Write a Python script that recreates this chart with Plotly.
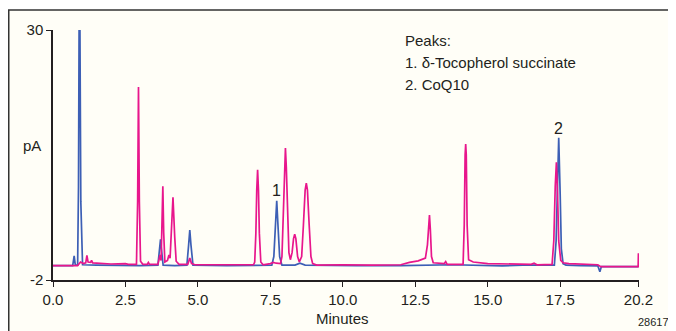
import plotly.graph_objects as go

# ---- data (minutes, pA) ----
blue_t = [-0.13, 0.5, 0.68, 0.73, 0.77, 0.85, 0.88, 0.90, 0.93, 0.96, 1.02, 1.5, 2.2, 3.0,
          3.62, 3.68, 3.71, 3.74, 3.80, 4.2, 4.62, 4.68, 4.72, 4.76, 4.83, 6.0,
          7.55, 7.62, 7.67, 7.72, 7.77, 7.82, 7.90, 8.35, 8.52, 8.70, 10.5, 12.0,
          13.8, 15.5, 16.2, 17.30, 17.36, 17.41, 17.45, 17.50, 17.54, 17.60, 17.70,
          18.2, 18.80, 18.87, 18.92, 19.5, 20.2]
blue_y = [-0.15, -0.15, -0.15, 1.1, -0.1, -0.1, 10.0, 29.9, 29.9, 8.0, -0.05, -0.1, -0.15, -0.15,
          -0.1, 2.0, 3.2, 2.0, -0.1, -0.15, -0.1, 2.5, 4.4, 2.5, -0.1, -0.15,
          -0.1, 1.0, 4.5, 8.15, 4.5, 1.0, -0.1, -0.1, 0.15, -0.1, -0.15, -0.15,
          -0.05, -0.2, -0.1, -0.1, 3.0, 11.0, 16.2, 9.0, 2.0, 0.1, -0.1,
          -0.15, -0.2, -0.95, -0.3, -0.3, -0.3]

pink_t = [-0.13, 0.85, 0.95, 1.05, 1.13, 1.17, 1.21, 1.30, 1.33, 1.37, 2.0, 2.5, 2.6,
          2.88, 2.92, 2.95, 2.98, 3.02, 3.10, 3.25, 3.29, 3.33, 3.62, 3.69, 3.73,
          3.76, 3.79, 3.82, 3.86, 3.95, 4.00, 4.04, 4.08, 4.14, 4.20, 4.25, 4.35,
          4.65, 4.72, 4.78, 4.90, 6.0, 6.92, 6.96, 7.00, 7.03, 7.06, 7.09, 7.12, 7.17,
          7.25, 7.50, 7.60, 7.70, 7.85, 7.90, 7.95, 7.99, 8.02, 8.05, 8.09, 8.14,
          8.19, 8.25, 8.30, 8.34, 8.38, 8.44, 8.50, 8.58, 8.64, 8.70, 8.74, 8.78,
          8.84, 8.90, 8.96, 9.10, 10.0, 11.0, 12.0, 12.3, 12.6, 12.85, 12.92, 12.96,
          12.99, 13.02, 13.06, 13.12, 13.50, 13.55, 13.60, 14.15, 14.19, 14.22,
          14.24, 14.26, 14.29, 14.34, 14.5, 15.0, 15.8, 16.5, 16.6, 16.7, 17.22,
          17.28, 17.33, 17.37, 17.41, 17.45, 17.52, 17.60, 17.80, 18.3, 18.80,
          18.90, 19.6, 20.19, 20.20]
pink_y = [-0.15, -0.15, 0.3, 0.1, 0.2, 1.15, 0.3, 0.25, 0.5, 0.2, 0.05, 0.1, 0.0,
          0.0, 8.0, 22.7, 8.0, 0.4, 0.0, 0.0, 0.25, 0.0, 0.0, 1.2, 0.5,
          4.0, 10.0, 4.0, 0.3, 0.5, 1.2, 0.8, 3.5, 8.6, 3.5, 0.4, 0.0,
          0.0, 0.8, 0.1, -0.05, -0.1, -0.05, 0.3, 4.0, 9.5, 12.1, 9.5, 4.0, 0.3,
          -0.05, 0.1, 0.25, 0.15, 0.1, 1.0, 6.0, 12.5, 14.9, 12.5, 6.0, 1.5,
          0.6, 1.5, 3.3, 3.85, 3.3, 1.0, 0.3, 1.0, 5.0, 9.5, 10.4, 9.5,
          5.0, 1.0, 0.1, -0.1, -0.05, -0.1, -0.05, 0.25, 0.45, 0.8, 2.5, 5.5,
          6.3, 4.5, 1.0, 0.2, 0.1, 0.35, 0.0, 0.0, 5.0, 14.0,
          15.4, 14.0, 5.0, 0.6, 0.3, 0.1, 0.0, 0.0, 0.15, -0.05, 0.0,
          3.0, 10.0, 13.06, 9.0, 3.0, 0.5, 0.2, 0.1, 0.0, -0.05,
          -0.3, -0.3, -0.3, 1.41]

x_tickvals = [0.0, 2.5, 5.0, 7.5, 10.0, 12.5, 15.0, 17.5, 20.2]
x_ticktext = ["0.0", "2.5", "5.0", "7.5", "10.0", "12.5", "15.0", "17.5", "20.2"]
y_tickvals = [-2, 30]
y_ticktext = ["-2", "30"]

peak_labels = ["1", "2"]
peak_label_t = [7.72, 17.45]
peak_label_y = [9.5, 17.4]

legend_lines = ["Peaks:", "1. δ-Tocopherol succinate", "2. CoQ10"]

BLUE = "#3d5fb5"
PINK = "#e8168c"
CREAM = "#fffef7"
INK = "#231f20"
FONT = "Liberation Sans, Arial, sans-serif"
FS = 15

fig = go.Figure()
fig.add_trace(go.Scatter(x=blue_t, y=blue_y, mode="lines",
                         line=dict(color=BLUE, width=1.7), hoverinfo="skip"))
fig.add_trace(go.Scatter(x=pink_t, y=pink_y, mode="lines",
                         line=dict(color=PINK, width=1.7), hoverinfo="skip"))

for lab, t, y in zip(peak_labels, peak_label_t, peak_label_y):
    fig.add_annotation(x=t, y=y, text=lab, showarrow=False, xref="x", yref="y",
                       yanchor="middle", font=dict(size=16, color=INK, family=FONT))

for i, line in enumerate(legend_lines):
    fig.add_annotation(x=0.597, y=0.96 - 0.088 * i, xref="paper", yref="paper",
                       xanchor="left", yanchor="middle", align="left", showarrow=False,
                       text=line, font=dict(size=FS, color=INK, family=FONT))

fig.add_annotation(x=-0.017, y=0.54, xref="paper", yref="paper", xanchor="right",
                   yanchor="middle", showarrow=False, text="pA",
                   font=dict(size=FS, color=INK, family=FONT))
fig.add_annotation(x=10.0, y=-0.152, xref="x", yref="paper", xanchor="center",
                   yanchor="middle", showarrow=False, text="Minutes",
                   font=dict(size=FS, color=INK, family=FONT))
fig.add_annotation(x=1.055, y=-0.168, xref="paper", yref="paper", xanchor="right",
                   yanchor="middle", showarrow=False, text="28617",
                   font=dict(size=11, color=INK, family=FONT))

# page frame (top and left edges visible)
fig.add_shape(type="rect", xref="paper", yref="paper", x0=-0.0755, y0=-0.4,
              x1=1.2, y1=1.08, line=dict(color="#333333", width=1.5),
              fillcolor=CREAM, layer="below")

fig.update_layout(
    width=668, height=323,
    margin=dict(l=45, r=37, t=22, b=51),
    paper_bgcolor="white",
    plot_bgcolor="rgba(0,0,0,0)",
    showlegend=False,
    font=dict(family=FONT, size=FS, color=INK),
    xaxis=dict(range=[0, 20.22], tickvals=x_tickvals, ticktext=x_ticktext,
               showgrid=False, zeroline=False, showline=True, linecolor=INK,
               linewidth=1.5, ticks="outside", ticklen=5, tickwidth=1.2,
               tickcolor=INK, tickfont=dict(size=FS, family=FONT, color=INK)),
    yaxis=dict(range=[-2, 30], tickvals=y_tickvals, ticktext=y_ticktext,
               showgrid=False, zeroline=False, showline=True, linecolor=INK,
               linewidth=1.5, ticks="outside", ticklen=5, tickwidth=1.2,
               tickcolor=INK, tickfont=dict(size=FS, family=FONT, color=INK)),
)

fig.write_html("out.html")
